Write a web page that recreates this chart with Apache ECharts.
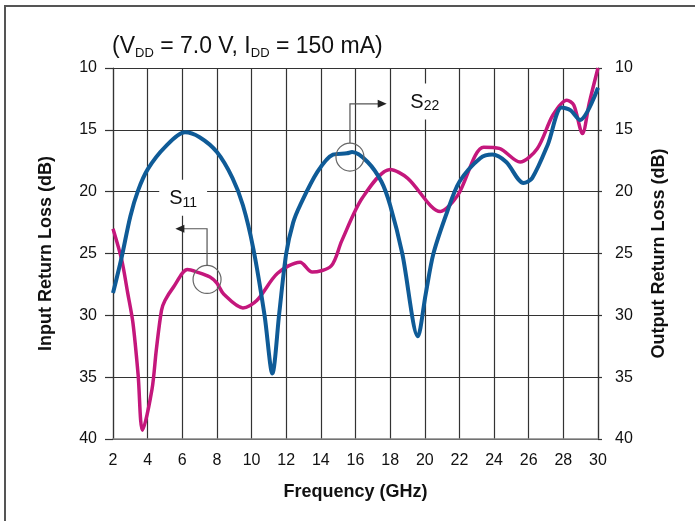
<!DOCTYPE html>
<html>
<head>
<meta charset="utf-8">
<script src="https://cdn.jsdelivr.net/npm/echarts@6/dist/echarts.min.js"></script>
<style>
  html, body { margin: 0; padding: 0; background: #fff; }
  #chart { width: 695px; height: 521px; }
</style>
</head>
<body>
<div id="chart"></div>
<script>
// S11 (input return loss, left axis)
var s11Freq = [2, 2.5, 2.85, 3.15, 3.45, 3.7, 4.25, 4.5, 4.8, 5.0, 5.5, 6.3, 6.85, 7.6, 8.0, 8.4, 9.5, 10.3, 11.5, 12.8, 13.5, 14.6, 15.2, 16.4, 18.0, 19.0, 20.9, 21.9, 23.4, 24.3, 25.5, 26.5, 27.4, 28.2, 28.6, 29.1, 29.5, 30];
var s11Loss = [23.0, 25.5, 28.2, 30.6, 34.8, 39.3, 36.0, 32.8, 29.6, 28.8, 27.7, 26.3, 26.5, 26.9, 27.4, 28.3, 29.4, 28.8, 26.6, 25.7, 26.5, 26.0, 24.0, 20.5, 18.2, 18.9, 21.6, 20.3, 16.4, 16.5, 17.6, 16.5, 13.8, 12.6, 13.0, 15.3, 12.8, 10.0];

// S22 (output return loss, right axis)
var s22Freq = [2, 2.5, 3.0, 3.45, 4.0, 5.0, 6.15, 7.0, 8.0, 8.9, 9.5, 10.1, 10.75, 11.2, 11.6, 12.0, 12.4, 12.8, 13.8, 14.7, 15.5, 15.8, 16.7, 17.5, 18.0, 18.7, 19.6, 20.05, 20.5, 21.3, 22.0, 23.2, 23.9, 24.7, 25.7, 26.2, 27.1, 27.9, 28.4, 28.96, 30];
var s22Loss = [28.2, 25.3, 22.0, 19.9, 18.2, 16.4, 15.2, 15.6, 16.8, 18.9, 21.1, 24.6, 30.0, 34.7, 29.8, 25.0, 22.5, 21.1, 18.4, 17.0, 16.9, 16.8, 17.6, 19.2, 21.1, 25.0, 31.7, 28.3, 25.0, 21.6, 19.2, 17.3, 17.0, 17.6, 19.3, 18.9, 16.2, 13.2, 13.4, 14.2, 11.6];

var freqTicks = [2, 4, 6, 8, 10, 12, 14, 16, 18, 20, 22, 24, 26, 28, 30];
var lossTicks = [10, 15, 20, 25, 30, 35, 40];

function pairs(xs, ys) {
    return xs.map(function (x, i) { return [x, ys[i]]; });
}

var font = '"Liberation Sans", Arial, sans-serif';
var gridColor = '#333';

var chart = echarts.init(document.getElementById('chart'));
chart.setOption({
    backgroundColor: '#fff',
    animation: false,
    textStyle: { fontFamily: font },
    title: {
        text: '{b|(V}{s|DD}{b| = 7.0 V, I}{s|DD}{b| = 150 mA)}',
        left: 112,
        top: 33,
        padding: 0,
        textStyle: {
            fontWeight: 'normal',
            fontSize: 23,
            rich: {
                b: { fontSize: 23, lineHeight: 27, color: '#111', fontWeight: 'normal', fontFamily: font },
                s: { fontSize: 13, lineHeight: 13, verticalAlign: 'bottom', color: '#111', fontWeight: 'normal', fontFamily: font }
            }
        }
    },
    grid: { left: 113, right: 97, top: 68, bottom: 82 },
    xAxis: {
        type: 'value',
        min: freqTicks[0],
        max: freqTicks[freqTicks.length - 1],
        interval: 2,
        name: 'Frequency (GHz)',
        nameLocation: 'middle',
        nameGap: 44,
        nameTextStyle: { fontSize: 18, fontWeight: 'bold', color: '#111' },
        axisLine: { show: true, lineStyle: { color: '#888', width: 1.5 } },
        axisTick: { show: false },
        axisLabel: { fontSize: 16, color: '#111', margin: 14 },
        splitLine: { show: true, lineStyle: { color: gridColor, width: 1.2 } }
    },
    yAxis: [
        {
            type: 'value',
            inverse: true,
            min: lossTicks[0],
            max: lossTicks[lossTicks.length - 1],
            interval: 5,
            position: 'left',
            name: 'Input Return Loss (dB)',
            nameLocation: 'middle',
            nameRotate: 90,
            nameGap: 58,
            nameTextStyle: { fontSize: 18, fontWeight: 'bold', color: '#111' },
            axisLine: { show: true, lineStyle: { color: gridColor, width: 1.2 } },
            axisTick: { show: true, length: 8, lineStyle: { color: gridColor, width: 1.2 } },
            axisLabel: { fontSize: 16, color: '#111', margin: 16 },
            splitLine: { show: true, lineStyle: { color: gridColor, width: 1.2 } }
        },
        {
            type: 'value',
            inverse: true,
            min: lossTicks[0],
            max: lossTicks[lossTicks.length - 1],
            interval: 5,
            position: 'right',
            name: 'Output Return Loss (dB)',
            nameLocation: 'middle',
            nameRotate: 90,
            nameGap: 52,
            nameTextStyle: { fontSize: 18, fontWeight: 'bold', color: '#111' },
            axisLine: { show: true, lineStyle: { color: gridColor, width: 1.2 } },
            axisTick: { show: true, length: 4, lineStyle: { color: gridColor, width: 1.2 } },
            axisLabel: { fontSize: 16, color: '#111', margin: 17 },
            splitLine: { show: false }
        }
    ],
    series: [
        {
            name: 'S11',
            type: 'line',
            yAxisIndex: 0,
            data: pairs(s11Freq, s11Loss),
            showSymbol: false,
            smooth: 0.3,
            lineStyle: { color: '#c4177c', width: 3.5 },
            z: 3
        },
        {
            name: 'S22',
            type: 'line',
            yAxisIndex: 1,
            data: pairs(s22Freq, s22Loss),
            showSymbol: false,
            smooth: 0.3,
            lineStyle: { color: '#0f5b97', width: 4 },
            z: 4
        }
    ]
});

// annotation callouts, placed in data coordinates
function px(x, y) { return chart.convertToPixel({ gridIndex: 0 }, [x, y]); }

function callout(circle, corner, end, label, sub, dir) {
    var c = px(circle[0], circle[1]);
    var k = px(corner[0], corner[1]);
    var e = px(end[0], end[1]);
    var l = px(label[0], label[1]);
    var r = 14;
    var head = dir < 0
        ? [[e[0], e[1]], [e[0] + 9, e[1] - 4], [e[0] + 9, e[1] + 4]]
        : [[e[0], e[1]], [e[0] - 9, e[1] - 4], [e[0] - 9, e[1] + 4]];
    return [
        { type: 'circle', shape: { cx: c[0], cy: c[1], r: r }, style: { fill: null, stroke: '#666', lineWidth: 1.2 }, z: 20 },
        { type: 'polyline', shape: { points: [[c[0], c[1] - r], [c[0], k[1]], [e[0] - dir * 6, k[1]]] }, style: { fill: null, stroke: '#555', lineWidth: 1.2 }, z: 20 },
        { type: 'polygon', shape: { points: head }, style: { fill: '#222' }, z: 20 },
        {
            type: 'text', x: l[0], y: l[1], z: 20,
            style: {
                text: '{b|S}{s|' + sub + '}',
                align: 'center', verticalAlign: 'middle',
                backgroundColor: '#fff', padding: [8, 10, 6, 10],
                rich: {
                    b: { fontSize: 20, lineHeight: 22, fill: '#111', fontFamily: font },
                    s: { fontSize: 14, lineHeight: 14, verticalAlign: 'bottom', fill: '#111', fontFamily: font }
                }
            }
        }
    ];
}

var g = [].concat(
    callout([7.43, 27.1], [7.43, 23.0], [5.6, 23.0], [6.05, 20.5], '11', -1),
    callout([15.68, 17.2], [15.68, 12.9], [17.8, 12.9], [20.0, 12.7], '22', 1)
);
g.push({
    type: 'polyline',
    shape: { points: [[5, 521], [5, 6], [695, 6]] },
    style: { fill: null, stroke: '#555', lineWidth: 2 },
    z: 30
});
chart.setOption({ graphic: g });
</script>
</body>
</html>
